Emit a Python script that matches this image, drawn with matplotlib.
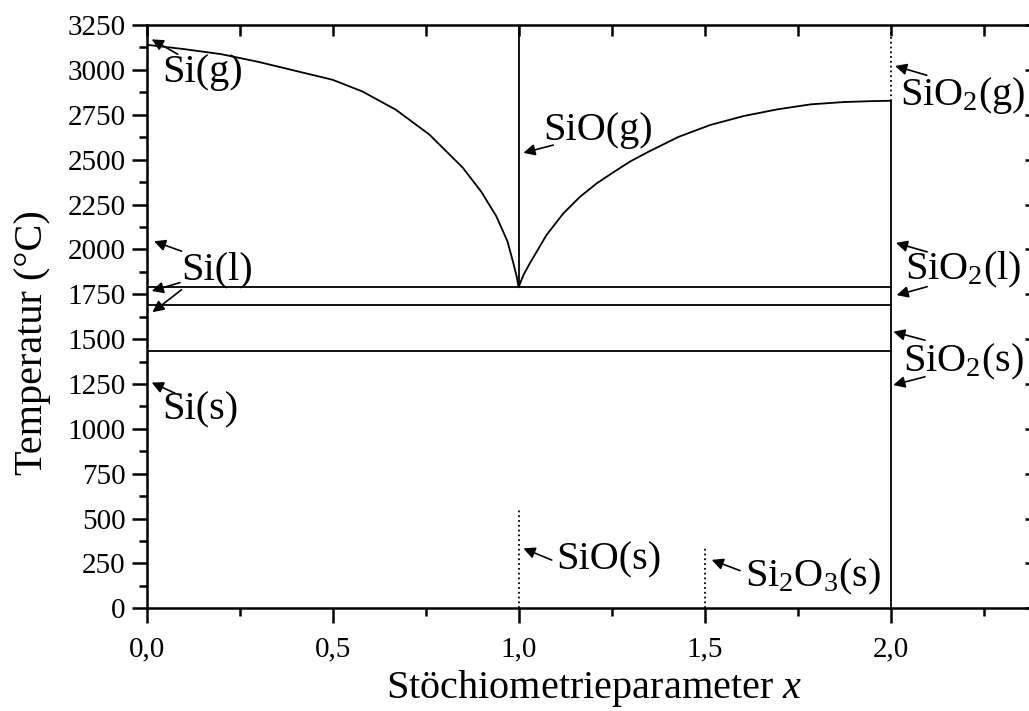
import matplotlib.pyplot as plt
from matplotlib.ticker import MultipleLocator, FuncFormatter

plt.rcParams['font.family'] = ['Liberation Serif', 'DejaVu Serif']
plt.rcParams['mathtext.fontset'] = 'custom'
plt.rcParams['mathtext.rm'] = 'Liberation Serif'
plt.rcParams['mathtext.it'] = 'Liberation Serif:italic'

# Gas / liquid boundary, Si side (x = 0 ... 1)
x_left = [0.0, 0.1, 0.2, 0.3, 0.4, 0.5, 0.58, 0.67, 0.76, 0.85, 0.9, 0.94,
          0.97, 0.985, 0.995, 1.0]
t_left = [3140, 3116, 3088, 3045, 2995, 2945, 2880, 2778, 2640, 2455, 2320, 2185,
          2045, 1930, 1847, 1790]

# Gas / liquid boundary, SiO2 side (x = 1 ... 2)
x_right = [1.0, 1.013, 1.03, 1.075, 1.12, 1.165, 1.21, 1.255, 1.3, 1.35, 1.43,
           1.515, 1.605, 1.695, 1.785, 1.875, 1.95, 2.0]
t_right = [1790, 1857, 1922, 2080, 2200, 2293, 2368, 2430, 2490, 2545, 2627,
           2693, 2743, 2780, 2808, 2821, 2826, 2828]

# Horizontal phase boundaries (°C)
t_levels = [1790, 1690, 1435]

# Dotted markers for solid compounds: (x, top temperature)
sio_s = (1.0, 546)
si2o3_s = (1.5, 340)
t_top = 3250

fig = plt.figure(figsize=(10.29, 7.11), dpi=100)
ax = fig.add_axes([0.1424, 0.1444, 0.8606, 0.8204])

lw = 1.3
ax.plot(x_left, t_left, color='black', lw=lw)
ax.plot(x_right, t_right, color='black', lw=lw)
for t in t_levels:
    ax.plot([0, 2.0], [t, t], color='black', lw=lw)
ax.plot([1.0, 1.0], [t_left[-1], t_top], color='black', lw=lw)
ax.plot([2.0, 2.0], [0, t_right[-1]], color='black', lw=lw)
ax.plot([2.0, 2.0], [t_right[-1], t_top], color='black', lw=lw, ls=':')
ax.plot([sio_s[0], sio_s[0]], [0, sio_s[1]], color='black', lw=lw, ls=':')
ax.plot([si2o3_s[0], si2o3_s[0]], [0, si2o3_s[1]], color='black', lw=lw, ls=':')

ax.set_xlim(0, 2.38)
ax.set_ylim(0, 3250)

# axes frame and ticks
for s in ax.spines.values():
    s.set_linewidth(1.8)
ax.xaxis.set_major_locator(MultipleLocator(0.5))
ax.xaxis.set_minor_locator(MultipleLocator(0.25))
ax.yaxis.set_major_locator(MultipleLocator(250))
ax.yaxis.set_minor_locator(MultipleLocator(125))
ax.xaxis.set_major_formatter(FuncFormatter(lambda v, p: f'{v:.1f}'.replace('.', ',')))
ax.tick_params(which='major', direction='out', length=11, width=1.8, labelsize=21, pad=4)
ax.tick_params(which='minor', direction='out', length=6, width=1.8)
ax.tick_params(axis='x', which='major', pad=9)

top = ax.secondary_xaxis('top')
top.xaxis.set_major_locator(MultipleLocator(0.25))
top.tick_params(direction='in', length=8, width=1.8, labeltop=False)
right = ax.secondary_yaxis('right')
right.yaxis.set_major_locator(MultipleLocator(250))
right.tick_params(direction='in', length=5, width=1.8, labelright=False)

ax.set_xlabel(r'Stöchiometrieparameter $x$', fontsize=29)
ax.xaxis.set_label_coords(0.505, -0.103)
ax.set_ylabel('Temperatur (°C)', fontsize=29)
ax.yaxis.set_label_coords(-0.108, 0.456)

# phase labels with arrows: (text, text pos, [(tail, head), ...])
fs = 29
arrow = dict(arrowstyle='-|>', color='black', lw=1.2, mutation_scale=17,
             shrinkA=0, shrinkB=0)
labels = [
    ('Si(g)', (0.041, 2988), [((0.084, 3087), (0.014, 3170))]),
    ('Si(l)', (0.094, 1885), [((0.094, 1990), (0.02, 2045)),
                              ((0.09, 1815), (0.014, 1768)),
                              ((0.094, 1775), (0.016, 1650))]),
    ('Si(s)', (0.041, 1105), [((0.077, 1198), (0.014, 1258))]),
    ('SiO(g)', (1.066, 2665), [((1.093, 2581), (1.013, 2538))]),
    ('SiO$_\\mathregular{2}$(g)', (2.025, 2860), [((2.097, 2970), (2.012, 3022))]),
    ('SiO$_\\mathregular{2}$(l)', (2.038, 1885), [((2.098, 1986), (2.014, 2036)),
                                                  ((2.098, 1792), (2.016, 1745))]),
    ('SiO$_\\mathregular{2}$(s)', (2.034, 1375), [((2.092, 1494), (2.007, 1541)),
                                                  ((2.092, 1290), (2.007, 1244))]),
    ('SiO(s)', (1.102, 270), [((1.089, 269), (1.013, 334))]),
    ('Si$_\\mathregular{2}$O$_\\mathregular{3}$(s)', (1.608, 175),
     [((1.595, 210), (1.519, 270))]),
]
for text, pos, arrows in labels:
    ax.text(pos[0], pos[1], text, fontsize=fs, ha='left', va='center')
    for tail, head in arrows:
        ax.annotate('', xy=head, xytext=tail, arrowprops=arrow)

fig.savefig('out.png', dpi=100)
